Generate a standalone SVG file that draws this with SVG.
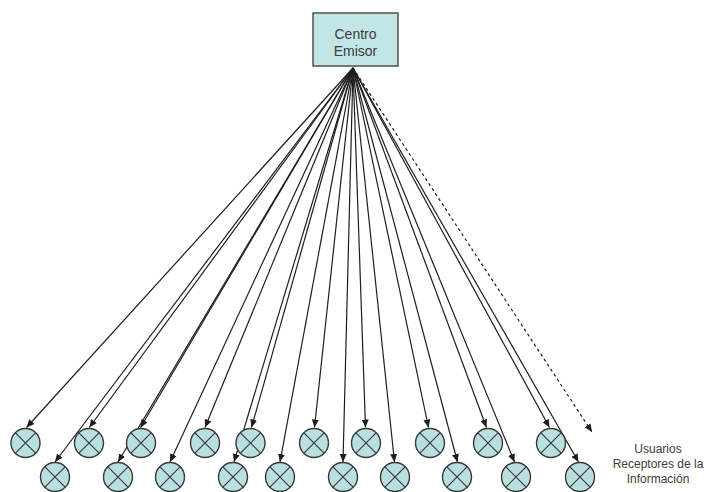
<svg xmlns="http://www.w3.org/2000/svg" width="705" height="492" viewBox="0 0 705 492">
  <style>
    .box { fill: #c2e5e6; stroke: #3a3a3a; stroke-width: 1.3; }
    .ray { stroke: #1e1e1e; stroke-width: 1.2; fill: none; marker-end: url(#tip); }
    .ray.dash { stroke-dasharray: 3 3; }
    .lbl { font-family: "Liberation Sans", Arial, sans-serif; fill: #3c3c3c; text-anchor: middle; }
  </style>
  <defs>
    <marker id="tip" markerUnits="userSpaceOnUse" markerWidth="8" markerHeight="7" refX="8" refY="3.5" orient="auto">
      <path d="M0,0 L8,3.5 L0,7 z" fill="#1e1e1e"/>
    </marker>
    <!-- receiver symbol: crossed circle -->
    <g id="rx">
      <circle r="14.5" fill="#b9dfe0" stroke="#3a3a3a" stroke-width="1.4"/>
      <path d="M-10.3,-10.3 L10.3,10.3 M-10.3,10.3 L10.3,-10.3" fill="none" stroke="#3a3a3a" stroke-width="1.2"/>
    </g>
  </defs>

  <rect width="705" height="492" fill="#fff"/>

  <!-- broadcast rays from the emitter to every receiver -->
  <g id="connectors">
    <line class="ray" x1="353" y1="68" x2="26.5" y2="427.5"/>
    <line class="ray" x1="353" y1="68" x2="89.3" y2="427.5"/>
    <line class="ray" x1="353" y1="68" x2="140.5" y2="427.5"/>
    <line class="ray" x1="353" y1="68" x2="205" y2="427.5"/>
    <line class="ray" x1="353" y1="68" x2="251.5" y2="427.5"/>
    <line class="ray" x1="353" y1="68" x2="314.5" y2="427.5"/>
    <line class="ray" x1="353" y1="68" x2="365.5" y2="427.5"/>
    <line class="ray" x1="353" y1="68" x2="428.5" y2="427.5"/>
    <line class="ray" x1="353" y1="68" x2="486.5" y2="427.5"/>
    <line class="ray" x1="353" y1="68" x2="549.5" y2="427.5"/>
    <line class="ray" x1="353" y1="68" x2="55" y2="462"/>
    <line class="ray" x1="353" y1="68" x2="118" y2="462"/>
    <line class="ray" x1="353" y1="68" x2="170" y2="462"/>
    <line class="ray" x1="353" y1="68" x2="234" y2="462"/>
    <line class="ray" x1="353" y1="68" x2="280" y2="462"/>
    <line class="ray" x1="353" y1="68" x2="343" y2="462"/>
    <line class="ray" x1="353" y1="68" x2="394.5" y2="462"/>
    <line class="ray" x1="353" y1="68" x2="457.5" y2="462"/>
    <line class="ray" x1="353" y1="68" x2="514.5" y2="462"/>
    <line class="ray" x1="353" y1="68" x2="578.5" y2="462"/>
    <line class="ray dash" x1="353" y1="68" x2="592" y2="432"/>
  </g>

  <g id="emisor">
    <rect class="box" x="313" y="13" width="85" height="53"/>
    <text class="lbl" x="355.5" y="39" font-size="14">Centro</text>
    <text class="lbl" x="355.5" y="56" font-size="14">Emisor</text>
  </g>

  <!-- receivers, upper row -->
  <g id="r1"><use href="#rx" x="25.5" y="443"/></g>
  <g id="r2"><use href="#rx" x="89" y="443"/></g>
  <g id="r3"><use href="#rx" x="141" y="443"/></g>
  <g id="r4"><use href="#rx" x="205" y="443"/></g>
  <g id="r5"><use href="#rx" x="250.5" y="443"/></g>
  <g id="r6"><use href="#rx" x="314" y="443"/></g>
  <g id="r7"><use href="#rx" x="366" y="443"/></g>
  <g id="r8"><use href="#rx" x="430" y="443"/></g>
  <g id="r9"><use href="#rx" x="488" y="443"/></g>
  <g id="r10"><use href="#rx" x="551" y="443"/></g>

  <!-- receivers, lower row -->
  <g id="r11"><use href="#rx" x="55" y="477"/></g>
  <g id="r12"><use href="#rx" x="118" y="477"/></g>
  <g id="r13"><use href="#rx" x="170" y="477"/></g>
  <g id="r14"><use href="#rx" x="233" y="477"/></g>
  <g id="r15"><use href="#rx" x="280" y="477"/></g>
  <g id="r16"><use href="#rx" x="343" y="477"/></g>
  <g id="r17"><use href="#rx" x="395" y="477"/></g>
  <g id="r18"><use href="#rx" x="457" y="477"/></g>
  <g id="r19"><use href="#rx" x="516" y="477"/></g>
  <g id="r20"><use href="#rx" x="580" y="477"/></g>

  <g id="leyenda">
    <text class="lbl" x="658" y="453" font-size="12">Usuarios</text>
    <text class="lbl" x="658" y="468" font-size="12">Receptores de la</text>
    <text class="lbl" x="658" y="483" font-size="12">Información</text>
  </g>
</svg>
